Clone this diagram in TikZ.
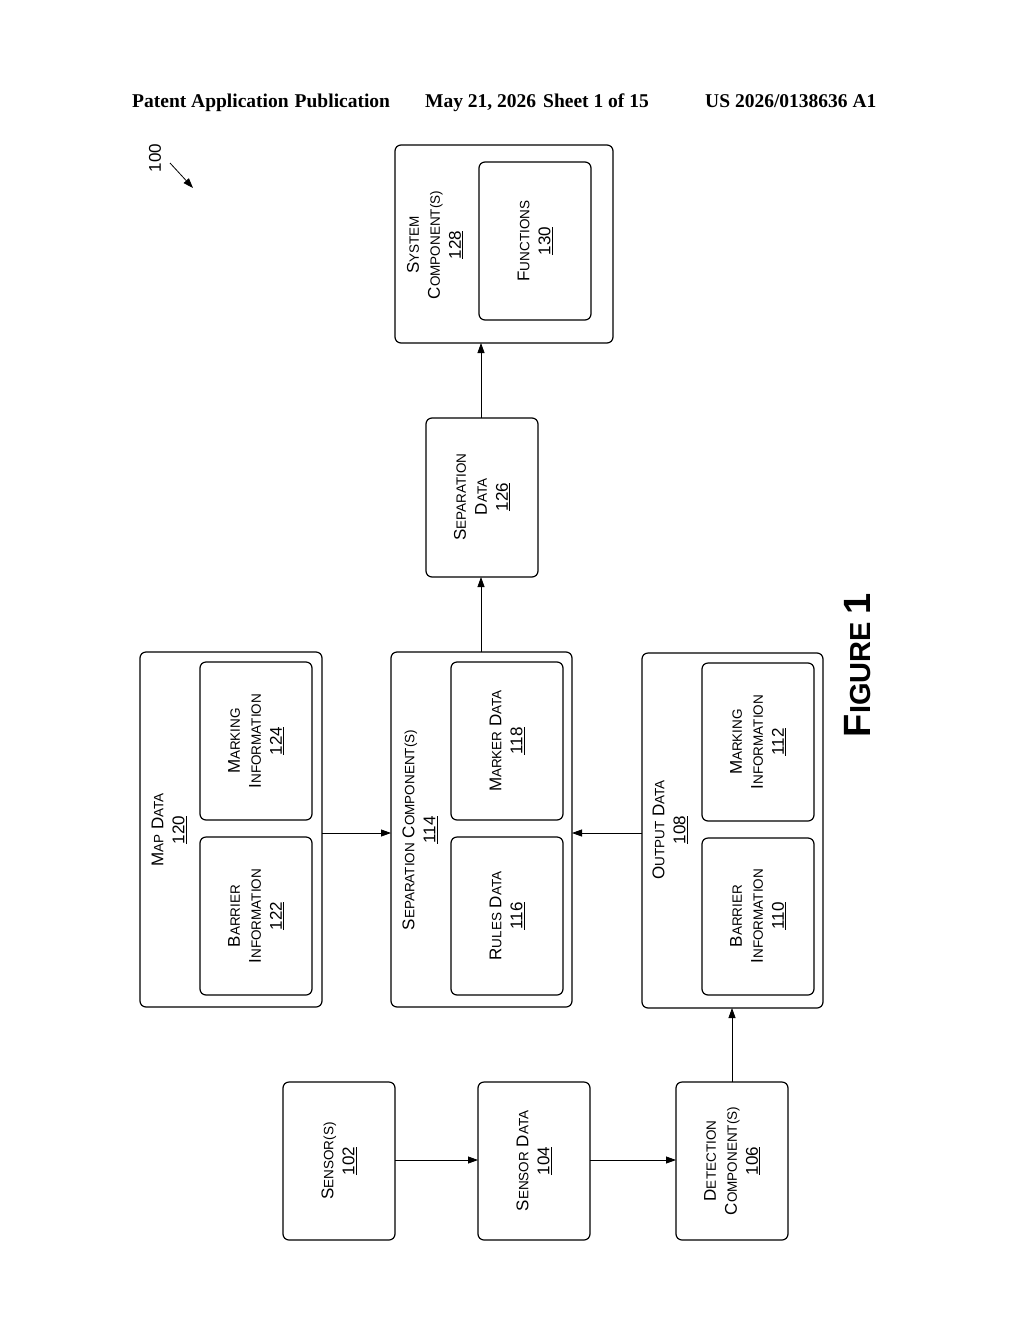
\documentclass[tikz,border=0pt]{standalone}
\usepackage{fontspec}
\setmainfont{Liberation Sans}
\newfontfamily\tms{Liberation Serif}
\usetikzlibrary{arrows.meta}
\newcommand\Sc[2]{{\fontsize{17}{19}\selectfont #1}{\fontsize{13.5}{19}\selectfont #2}}
\newcommand\Sm[1]{{\fontsize{13.5}{19}\selectfont #1}}
\newcommand\Nm[1]{{\fontsize{17}{19}\selectfont\underline{#1}}}
\begin{document}
\begin{tikzpicture}[x=1pt,y=1pt,
  bx/.style={draw,line width=1.2pt,rounded corners=6pt},
  lb/.style={rotate=90,align=center,font=\fontsize{17}{21}\selectfont},
  hd/.style={font=\tms\bfseries\fontsize{19.5}{22}\selectfont,anchor=base west,inner sep=0pt},
  ar/.style={line width=0.8pt,-{Triangle[length=10pt,width=7pt]}}]
\useasboundingbox (0,0) rectangle (1024,-1320);
\node[hd] (h1) at (132,-107) {Patent Application\hspace{6pt}Publication};
\node[hd] (h2) at (425,-107) {May 21, 2026\hspace{7pt}Sheet 1 of 15};
\node[hd] (h3) at (705,-107) {US 2026/0138636 A1};
\node[rotate=90,font=\fontsize{17}{18}\selectfont] (n100) at (155,-158) {100};
\coordinate (a1) at (170,-163); \coordinate (a2) at (193,-188);
\draw[ar] (a1) -- (a2);
\node[rotate=90,font=\bfseries] (fig) at (858,-665) {{\fontsize{38}{40}\selectfont F}{\fontsize{29}{40}\selectfont IGURE}\hspace{8pt}{\fontsize{38}{40}\selectfont 1}};
% bottom row
\draw[bx] (283,-1082) rectangle (395,-1240);
\node[lb] (s102) at (339,-1161) {\Sc{S}{ENSOR}\Sm{(S)}\\\Nm{102}};
\draw[bx] (478,-1082) rectangle (590,-1240);
\node[lb] (s104) at (534,-1161) {\Sc{S}{ENSOR} \Sc{D}{ATA}\\\Nm{104}};
\draw[bx] (676,-1082) rectangle (788,-1240);
\node[lb] (s106) at (732,-1161) {\Sc{D}{ETECTION}\\\Sc{C}{OMPONENT}\Sm{(S)}\\\Nm{106}};
\coordinate (s102e) at (395,-1160); \coordinate (s104w) at (478,-1160);
\coordinate (s104e) at (590,-1160); \coordinate (s106w) at (676,-1160);
\draw[ar] (s102e) -- (s104w);
\draw[ar] (s104e) -- (s106w);
% output data
\draw[bx] (642,-653) rectangle (823,-1008);
\node[lb] (o108) at (670,-830) {\Sc{O}{UTPUT} \Sc{D}{ATA}\\\Nm{108}};
\draw[bx] (702,-838) rectangle (814,-995);
\node[lb] (o110) at (758,-916) {\Sc{B}{ARRIER}\\\Sc{I}{NFORMATION}\\\Nm{110}};
\draw[bx] (702,-663) rectangle (814,-821);
\node[lb] (o112) at (758,-742) {\Sc{M}{ARKING}\\\Sc{I}{NFORMATION}\\\Nm{112}};
% separation component
\draw[bx] (391,-652) rectangle (572,-1007);
\node[lb] (c114) at (420,-830) {\Sc{S}{EPARATION} \Sc{C}{OMPONENT}\Sm{(S)}\\\Nm{114}};
\draw[bx] (451,-837) rectangle (563,-995);
\node[lb] (c116) at (507,-916) {\Sc{R}{ULES} \Sc{D}{ATA}\\\Nm{116}};
\draw[bx] (451,-662) rectangle (563,-820);
\node[lb] (c118) at (507,-741) {\Sc{M}{ARKER} \Sc{D}{ATA}\\\Nm{118}};
% map data
\draw[bx] (140,-652) rectangle (322,-1007);
\node[lb] (m120) at (169,-830) {\Sc{M}{AP} \Sc{D}{ATA}\\\Nm{120}};
\draw[bx] (200,-837) rectangle (312,-995);
\node[lb] (m122) at (256,-916) {\Sc{B}{ARRIER}\\\Sc{I}{NFORMATION}\\\Nm{122}};
\draw[bx] (200,-662) rectangle (312,-820);
\node[lb] (m124) at (256,-741) {\Sc{M}{ARKING}\\\Sc{I}{NFORMATION}\\\Nm{124}};
% separation data, system
\draw[bx] (426,-418) rectangle (538,-577);
\node[lb] (d126) at (482,-497) {\Sc{S}{EPARATION}\\\Sc{D}{ATA}\\\Nm{126}};
\draw[bx] (395,-145) rectangle (613,-343);
\node[lb] (y128) at (435,-245) {\Sc{S}{YSTEM}\\\Sc{C}{OMPONENT}\Sm{(S)}\\\Nm{128}};
\draw[bx] (479,-162) rectangle (591,-320);
\node[lb] (f130) at (535,-241) {\Sc{F}{UNCTIONS}\\\Nm{130}};
% connectors
\coordinate (d106n) at (732,-1082); \coordinate (o108s) at (732,-1008);
\draw[ar] (d106n) -- (o108s);
\coordinate (o108w) at (642,-833); \coordinate (c114e) at (572,-833);
\draw[ar] (o108w) -- (c114e);
\coordinate (m120e) at (322,-833); \coordinate (c114w) at (391,-833);
\draw[ar] (m120e) -- (c114w);
\coordinate (c114n) at (481,-652); \coordinate (d126s) at (481,-577);
\draw[ar] (c114n) -- (d126s);
\coordinate (d126n) at (481,-418); \coordinate (y128s) at (481,-343);
\draw[ar] (d126n) -- (y128s);
\end{tikzpicture}
\end{document}
